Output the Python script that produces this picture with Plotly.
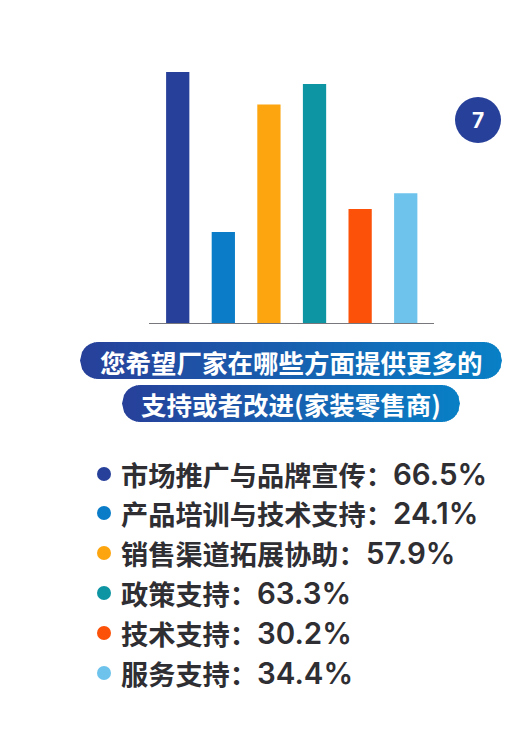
import math
import plotly.graph_objects as go

categories = ["市场推广与品牌宣传", "产品培训与技术支持", "销售渠道拓展协助", "政策支持", "技术支持", "服务支持"]
values = [66.5, 24.1, 57.9, 63.3, 30.2, 34.4]
colors = ["#27409A", "#0A7CC8", "#FDA50F", "#0E95A3", "#FB5108", "#6EC3EC"]
title_lines = ["您希望厂家在哪些方面提供更多的", "支持或者改进(家装零售商)"]

W, H = 530, 746
FONT = "Noto Sans CJK SC, Inter, sans-serif"
fig = go.Figure()
fig.add_trace(go.Scatter(x=[0, W], y=[0, H], xaxis="x", yaxis="y", mode="markers",
                         marker=dict(opacity=0), hoverinfo="skip", showlegend=False))
fig.add_trace(go.Bar(x=categories, y=values, xaxis="x2", yaxis="y2",
                     marker=dict(color=colors, line=dict(width=0)), width=0.51,
                     hoverinfo="skip", showlegend=False))

shapes, annotations = [], []

def lerp(a, b, t):
    return tuple(a[i] + (b[i] - a[i]) * t for i in range(3))

def pill(x0, x1, y0, y1, c0=(39, 64, 154), c1=(8, 128, 198)):
    r = (y1 - y0) / 2
    cy = (y0 + y1) / 2
    def half(x):
        if x < x0 + r:
            d = x0 + r - x
        elif x > x1 - r:
            d = x - (x1 - r)
        else:
            return r
        return math.sqrt(max(r * r - d * d, 0))
    step = 2.0
    x = x0
    while x < x1:
        xa, xb = x, min(x + step, x1)
        xo = min(xb + 0.6, x1)
        t = (x - x0) / (x1 - x0)
        c = lerp(c0, c1, t)
        ha, hb = half(xa), half(xb)
        ho = half(xo)
        p = f"M{xa:.2f},{cy-ha:.2f} L{xb:.2f},{cy-hb:.2f} L{xo:.2f},{cy-ho:.2f} L{xo:.2f},{cy+ho:.2f} L{xb:.2f},{cy+hb:.2f} L{xa:.2f},{cy+ha:.2f} Z"
        shapes.append(dict(type="path", path=p, xref="x", yref="y", layer="below",
                           fillcolor=f"rgb({c[0]:.0f},{c[1]:.0f},{c[2]:.0f})", line=dict(width=0)))
        x = xb

pill(80, 502, 342, 379)
pill(122, 460, 385, 422)
for line, cx, cy in zip(title_lines, [291, 291], [361, 403]):
    annotations.append(dict(text=f"<b>{line}</b>", x=cx, y=cy, xref="x", yref="y", showarrow=False,
                            font=dict(family=FONT, size=25.5, color="white"), xanchor="center", yanchor="middle"))

# badge
shapes.append(dict(type="circle", x0=455, x1=501, y0=97, y1=143, xref="x", yref="y",
                   fillcolor="#27409A", line=dict(width=0)))
annotations.append(dict(text="<b>7</b>", x=478, y=120, xref="x", yref="y", showarrow=False,
                        font=dict(family="Inter, sans-serif", size=21, color="white")))

# legend rows
row_y = [474, 513, 553, 593, 633, 673]
for cat, val, col, y in zip(categories, values, colors, row_y):
    shapes.append(dict(type="circle", x0=97, x1=111, y0=y-7, y1=y+7, xref="x", yref="y",
                       fillcolor=col, line=dict(width=0)))
    annotations.append(dict(text=f"<b>{cat}：</b>", x=119, y=y, xref="x", yref="y", showarrow=False,
                            xanchor="left", yanchor="middle",
                            font=dict(family=FONT, size=27.2, color="#2E2E33")))
    n = len(cat) + 1
    annotations.append(dict(text=f"{val}%", x=119 + n * 27.2, y=y, xref="x", yref="y", showarrow=False,
                            xanchor="left", yanchor="middle",
                            font=dict(family="Inter, sans-serif", size=29.5, color="#2E2E33", weight=600)))

fig.update_layout(
    width=W, height=H, margin=dict(l=0, r=0, t=0, b=0, pad=0),
    paper_bgcolor="white", plot_bgcolor="rgba(0,0,0,0)",
    shapes=shapes, annotations=annotations,
    xaxis=dict(domain=[0, 1], range=[0, W], visible=False, fixedrange=True),
    yaxis=dict(domain=[0, 1], range=[H, 0], visible=False, fixedrange=True),
    xaxis2=dict(domain=[149 / W, 434 / W], anchor="y2", range=[-0.63, 5.62], type="category", showticklabels=False, ticks="",
               showgrid=False, zeroline=False, showline=True, linecolor="#77777C", linewidth=1, fixedrange=True),
    yaxis2=dict(domain=[(H - 323) / H, (H - 72) / H], anchor="x2", range=[0, 66.5], showticklabels=False, ticks="",
               showgrid=False, zeroline=False, showline=False, fixedrange=True),
)
fig.write_html("out.html", config=dict(displayModeBar=False),
               post_script="document.body.style.margin='0';document.body.style.overflow='hidden';")
